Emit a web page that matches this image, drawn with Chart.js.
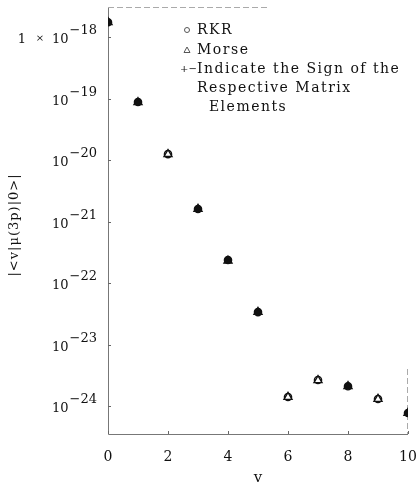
<!DOCTYPE html>
<html>
<head>
<meta charset="utf-8">
<script src="https://cdn.jsdelivr.net/npm/chart.js@4.4.1/dist/chart.umd.min.js"></script>
<style>
  html, body { margin: 0; padding: 0; background: #fff; }
  #wrap { position: relative; width: 417px; height: 487px; }
</style>
</head>
<body>
<div id="wrap"><canvas id="chart"></canvas></div>
<script>
// vibrational level v
const levels = [0, 1, 2, 3, 4, 5, 6, 7, 8, 9, 10];
// |<v|mu(3p)|0>|
const rkrValues = [1.75e-18, 8.8e-20, 1.25e-20, 1.6e-21, 2.37e-22, 3.37e-23, 1.4e-24, 2.65e-24, 2.1e-24, 1.3e-24, 7.7e-25];
const morseValues = [1.75e-18, 8.7e-20, 1.25e-20, 1.6e-21, 2.3e-22, 3.37e-23, 1.4e-24, 2.62e-24, 2.1e-24, 1.3e-24, 7.7e-25];
// sign of matrix element: filled = +, open = -
const signs = [1, 1, -1, 1, 1, 1, -1, -1, 1, -1, 1];
const yExponents = [-18, -19, -20, -21, -22, -23, -24];
const xTickValues = [0, 2, 4, 6, 8, 10];
const legendLines = ["RKR", "Morse", "Indicate the Sign of the", "Respective Matrix", "  Elements"];

const serif = '"DejaVu Serif", "Liberation Serif", serif';
const ink = "#111";

function fills() {
  return signs.map(s => (s > 0 ? ink : "#fff"));
}

const decor = {
  id: "decor",
  beforeDatasetsDraw(chart) {
    const { ctx, chartArea: a, scales } = chart;
    ctx.save();
    // frame, faint like the scan
    ctx.strokeStyle = "#777";
    ctx.lineWidth = 1;
    ctx.beginPath();
    ctx.moveTo(a.left + 0.5, a.top);
    ctx.lineTo(a.left + 0.5, a.bottom + 0.5);
    ctx.lineTo(a.right, a.bottom + 0.5);
    ctx.stroke();
    ctx.strokeStyle = "#aaa";
    ctx.setLineDash([6, 3]);
    ctx.beginPath();
    ctx.moveTo(a.left, a.top + 0.5);
    ctx.lineTo(a.left + 160, a.top + 0.5);
    ctx.moveTo(a.right - 0.5, a.bottom - 65);
    ctx.lineTo(a.right - 0.5, a.bottom);
    ctx.stroke();
    ctx.setLineDash([]);
    // small tick marks
    ctx.strokeStyle = "#666";
    xTickValues.forEach(v => {
      const px = Math.round(scales.x.getPixelForValue(v)) + 0.5;
      ctx.beginPath();
      ctx.moveTo(px, a.bottom);
      ctx.lineTo(px, a.bottom - 3);
      ctx.stroke();
    });
    yExponents.forEach(e => {
      const py = Math.round(scales.y.getPixelForValue(Math.pow(10, e))) + 0.5;
      ctx.beginPath();
      ctx.moveTo(a.left, py);
      ctx.lineTo(a.left + 3, py);
      ctx.stroke();
    });
    ctx.restore();
  },
  afterDraw(chart) {
    const { ctx, chartArea: a, scales } = chart;
    ctx.save();
    ctx.fillStyle = ink;
    ctx.textBaseline = "alphabetic";
    // y tick labels with superscripts
    yExponents.forEach((e, i) => {
      const py = scales.y.getPixelForValue(Math.pow(10, e));
      const sup = "\u2212" + Math.abs(e);
      ctx.font = "13px " + serif;
      ctx.textAlign = "right";
      const supRight = a.left - 11;
      ctx.fillText(sup, supRight, py - 3);
      const sw = ctx.measureText(sup).width;
      ctx.fillText("10", supRight - sw - 1, py + 6);
      if (i === 0) {
        ctx.textAlign = "center";
        ctx.fillText("1", 22, py + 6);
        ctx.font = "10px " + serif;
        ctx.fillText("\u00d7", 40, py + 4);
      }
    });
    // y axis title
    ctx.save();
    ctx.translate(15, 225);
    ctx.rotate(-Math.PI / 2);
    ctx.font = "13px " + serif;
    ctx.textAlign = "center";
    ctx.textBaseline = "middle";
    ctx.letterSpacing = "1px";
    ctx.fillText("|<v|\u03bc(3p)|0>|", 0, 0);
    ctx.restore();
    // legend
    const lx = 197;
    const ly = [30, 50, 69, 88, 107];
    ctx.font = "14px " + serif;
    ctx.textAlign = "left";
    ctx.textBaseline = "middle";
    ctx.letterSpacing = "1.5px";
    legendLines.forEach((t, i) => ctx.fillText(t, lx, ly[i]));
    ctx.letterSpacing = "0px";
    ctx.strokeStyle = "#555";
    ctx.lineWidth = 1;
    ctx.beginPath();
    ctx.arc(187, ly[0], 2.5, 0, Math.PI * 2);
    ctx.stroke();
    ctx.beginPath();
    ctx.moveTo(187, ly[1] - 3);
    ctx.lineTo(190, ly[1] + 2.5);
    ctx.lineTo(184, ly[1] + 2.5);
    ctx.closePath();
    ctx.stroke();
    ctx.font = "10px " + serif;
    ctx.fillText("+\u2212", 180, ly[2]);
    ctx.restore();
  }
};

new Chart(document.getElementById("chart"), {
  type: "scatter",
  data: {
    datasets: [
      {
        label: "Morse",
        data: levels.map((v, i) => ({ x: v, y: morseValues[i] })),
        pointStyle: "triangle",
        pointRadius: 4.6,
        pointBackgroundColor: fills(),
        pointBorderColor: ink,
        pointBorderWidth: 1.4
      },
      {
        label: "RKR",
        data: levels.map((v, i) => ({ x: v, y: rkrValues[i] })),
        pointStyle: "circle",
        pointRadius: 3.6,
        pointBackgroundColor: fills(),
        pointBorderColor: ink,
        pointBorderWidth: 1.4
      }
    ]
  },
  options: {
    responsive: true,
    maintainAspectRatio: false,
    animation: false,
    events: [],
    layout: { padding: { top: 7, right: 9, left: 0, bottom: 0 } },
    plugins: { legend: { display: false }, tooltip: { enabled: false } },
    scales: {
      x: {
        type: "linear",
        min: 0,
        max: 10,
        grid: { display: false, drawTicks: false, tickLength: 0 },
        border: { display: false },
        afterBuildTicks: s => { s.ticks = xTickValues.map(v => ({ value: v })); },
        afterFit: s => { s.height = 53; s.paddingLeft = 0; s.paddingRight = 0; },
        ticks: {
          padding: 15,
          color: ink,
          maxRotation: 0,
          font: { family: serif, size: 14 }
        },
        title: {
          display: true,
          text: "v",
          color: ink,
          padding: { top: 0, bottom: 0 },
          font: { family: serif, size: 15 }
        }
      },
      y: {
        type: "logarithmic",
        min: 3.51e-25,
        max: 3.09e-18,
        grid: { display: false, drawTicks: false },
        border: { display: false },
        afterBuildTicks: s => { s.ticks = yExponents.map(e => ({ value: Math.pow(10, e) })); },
        afterFit: s => { s.width = 108; s.paddingTop = 0; s.paddingBottom = 0; },
        ticks: { display: false }
      }
    }
  },
  plugins: [decor]
});
</script>
</body>
</html>
